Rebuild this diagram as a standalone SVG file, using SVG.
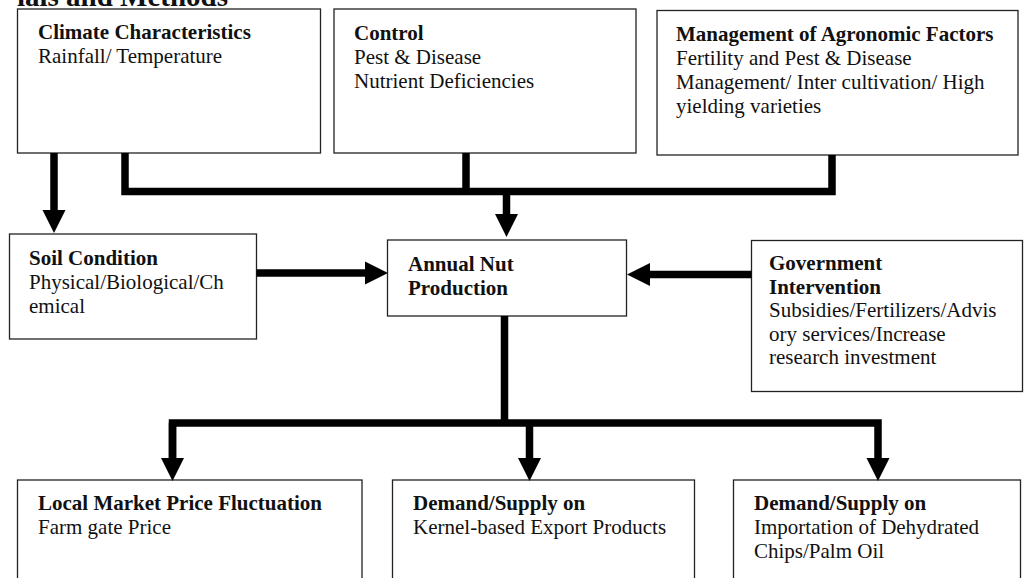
<svg xmlns="http://www.w3.org/2000/svg" width="1027" height="578" viewBox="0 0 1027 578">
<style>
.box{fill:#fff;stroke:#222;stroke-width:1.3}
text{font-family:"Liberation Serif","Times New Roman",serif;font-size:21px;fill:#111}
.b{font-weight:bold}
.title{font-weight:bold;font-size:29px}
.conn{fill:none;stroke:#000;stroke-width:7.5;stroke-linejoin:miter;stroke-linecap:butt}
</style>
<defs>
<marker id="ah" markerUnits="userSpaceOnUse" markerWidth="24" markerHeight="24" viewBox="0 -12 24 24" refX="0" refY="0" orient="auto">
<path d="M0,-11.5 L23,0 L0,11.5 Z" fill="#000"/>
</marker>
</defs>
<text class="title" x="228" y="6" text-anchor="end">ials and Methods</text>
<g id="climate">
<rect class="box" x="17.5" y="9" width="303" height="144"/>
<text x="38" y="39" class="b">Climate Characteristics</text>
<text x="38" y="63">Rainfall/ Temperature</text>
</g>
<g id="control">
<rect class="box" x="334" y="9" width="302" height="144"/>
<text x="354" y="40" class="b">Control</text>
<text x="354" y="64">Pest &amp; Disease</text>
<text x="354" y="88">Nutrient Deficiencies</text>
</g>
<g id="management">
<rect class="box" x="657" y="10.5" width="361" height="144.5"/>
<text x="676" y="41" class="b">Management of Agronomic Factors</text>
<text x="676" y="65">Fertility and Pest &amp; Disease</text>
<text x="676" y="89">Management/ Inter cultivation/ High</text>
<text x="676" y="113">yielding varieties</text>
</g>
<g id="soil">
<rect class="box" x="9.5" y="234" width="247" height="105"/>
<text x="29" y="265" class="b">Soil Condition</text>
<text x="29" y="289">Physical/Biological/Ch</text>
<text x="29" y="313">emical</text>
</g>
<g id="annual">
<rect class="box" x="387.5" y="240" width="239" height="76"/>
<text x="408" y="271" class="b">Annual Nut</text>
<text x="408" y="295" class="b">Production</text>
</g>
<g id="government">
<rect class="box" x="751.5" y="240.5" width="271" height="151"/>
<text x="769" y="270" class="b">Government</text>
<text x="769" y="293.5" class="b">Intervention</text>
<text x="769" y="317">Subsidies/Fertilizers/Advis</text>
<text x="769" y="340.5">ory services/Increase</text>
<text x="769" y="364">research investment</text>
</g>
<g id="local">
<rect class="box" x="17.5" y="480" width="344.5" height="120"/>
<text x="38" y="510" class="b">Local Market Price Fluctuation</text>
<text x="38" y="534">Farm gate Price</text>
</g>
<g id="demand1">
<rect class="box" x="392.5" y="480" width="302" height="120"/>
<text x="413" y="510" class="b">Demand/Supply on</text>
<text x="413" y="534">Kernel-based Export Products</text>
</g>
<g id="demand2">
<rect class="box" x="733.5" y="480" width="287" height="120"/>
<text x="754" y="510" class="b">Demand/Supply on</text>
<text x="754" y="534">Importation of Dehydrated</text>
<text x="754" y="558">Chips/Palm Oil</text>
</g>
<g id="connectors">
<path class="conn" d="M54,153 V210" marker-end="url(#ah)"/>
<path class="conn" d="M125,153 V191.5 H832 V155"/>
<path class="conn" d="M466,153 V191.5"/>
<path class="conn" d="M506.5,191.5 V214" marker-end="url(#ah)"/>
<path class="conn" d="M256.5,273 H365" marker-end="url(#ah)"/>
<path class="conn" d="M751.5,274.5 H650" marker-end="url(#ah)"/>
<path class="conn" d="M504.5,316 V423"/>
<path class="conn" d="M172.5,458 V423 H878 V458" marker-end="url(#ah)"/>
<path class="conn" d="M529.5,423 V458" marker-end="url(#ah)"/>
<path class="conn" d="M172.5,423 V458" marker-end="url(#ah)"/>
</g>
</svg>
